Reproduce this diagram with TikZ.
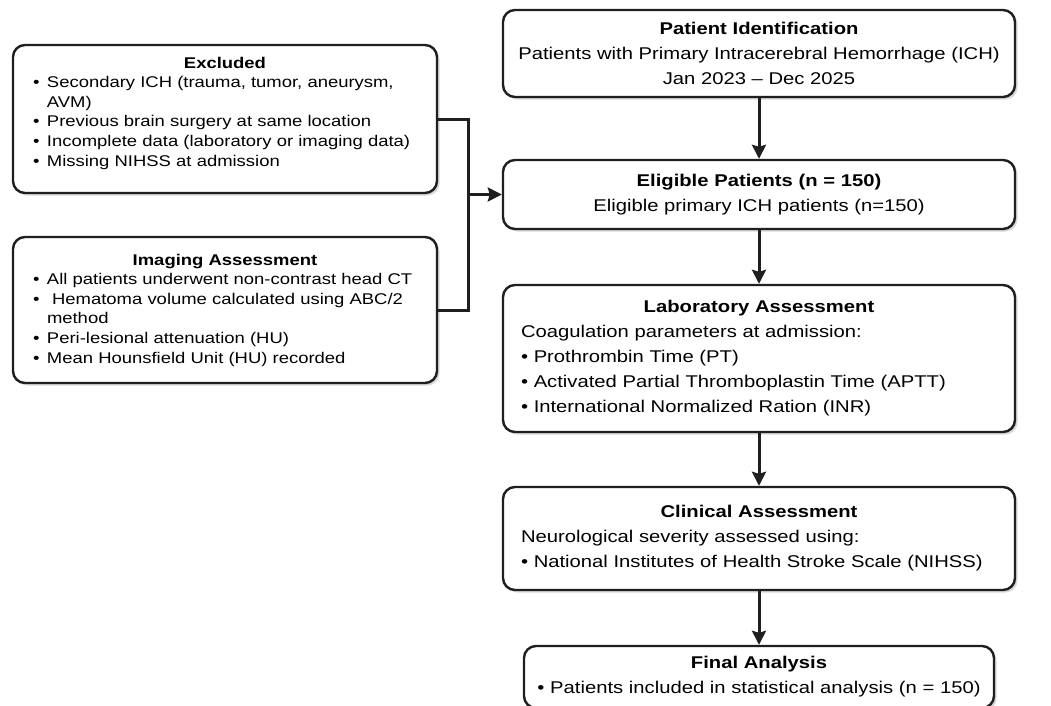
\documentclass[tikz,border=0pt]{standalone}
\usepackage{fontspec}
\setmainfont[FakeStretch=1.19]{Liberation Sans}
\usetikzlibrary{arrows.meta,shadows}

% bullet with hanging indent for the side boxes
\newcommand{\sideitem}[1]{\hangindent=14pt\hangafter=1\noindent\makebox[14pt][l]{\textbullet}#1\par}

\begin{document}
\begin{tikzpicture}[x=1pt,y=-1pt,
	flowbox/.style={draw=black!88,line width=2.4pt,rounded corners=12pt,fill=white,
		drop shadow={shadow xshift=2.5pt,shadow yshift=-2.5pt,opacity=.3},
		inner ysep=0pt,font=\fontsize{17}{25}\selectfont},
	sidebox/.style={flowbox,font=\fontsize{15.5}{19.6}\selectfont,inner xsep=20pt,text width=384pt,minimum height=146pt,align=left},
	conn/.style={line width=3pt,draw=black!88},
	arr/.style={conn,-{Stealth[length=14pt,width=14pt,inset=2pt]}}]
	\useasboundingbox (0,0) rectangle (1051,705);
	
	% Main column
	\node[flowbox,text width=500pt,inner xsep=6pt,minimum height=87pt,align=center] (ident) at (759,53.5)
		{\textbf{Patient Identification}\\Patients with Primary Intracerebral Hemorrhage (ICH)\\Jan 2023 -- Dec 2025};
	\node[flowbox,text width=500pt,inner xsep=6pt,minimum height=69pt,align=center] (elig) at (759,194.5)
		{\textbf{Eligible Patients (n = 150)}\\Eligible primary ICH patients (n=150)};
	\node[flowbox,text width=476pt,inner xsep=18pt,minimum height=147pt,align=left] (lab) at (759,358.5)
		{{\centering\bfseries Laboratory Assessment\par}
		Coagulation parameters at admission:\\
		\textbullet\ Prothrombin Time (PT)\\
		\textbullet\ Activated Partial Thromboplastin Time (APTT)\\
		\textbullet\ International Normalized Ration (INR)};
	\node[flowbox,text width=476pt,inner xsep=18pt,minimum height=103pt,align=left] (clin) at (759,538.5)
		{{\centering\bfseries Clinical Assessment\par}
		Neurological severity assessed using:\\
		\textbullet\ National Institutes of Health Stroke Scale (NIHSS)};
	\node[flowbox,text width=462pt,inner xsep=4pt,minimum height=62pt,align=center] (final) at (759,677)
		{\textbf{Final Analysis}\\\textbullet\ Patients included in statistical analysis (n = 150)};
	
	% Side boxes
	\node[sidebox,minimum height=148pt] (excl) at (225,119)
		{{\centering\bfseries Excluded\par}
		\sideitem{Secondary ICH (trauma, tumor, aneurysm,\hfill\break AVM)}
		\sideitem{Previous brain surgery at same location}
		\sideitem{Incomplete data (laboratory or imaging data)}
		\sideitem{Missing NIHSS at admission}
		\hrule height 12pt width 0pt};% keeps the text a bit high in the box
	\node[sidebox] (imag) at (225,310)
		{{\centering\bfseries Imaging Assessment\par}
		\sideitem{All patients underwent non-contrast head CT}
		\sideitem{\ Hematoma volume calculated using ABC/2\hfill\break method}
		\sideitem{Peri-lesional attenuation (HU)}
		\sideitem{Mean Hounsfield Unit (HU) recorded}};
	
	% Arrows down the main column
	\foreach \a/\b in {ident/elig,elig/lab,lab/clin,clin/final}
		\draw[arr] (\a.south) -- (\b.north);
	
	% Bracket joining the side boxes into the eligible box
	\path (elig.west) ++(-33,0) coordinate (jn);
	\draw[conn] (excl.east) -| (jn) |- (imag.east);
	\draw[arr] (jn) -- (elig.west);
\end{tikzpicture}
\end{document}
